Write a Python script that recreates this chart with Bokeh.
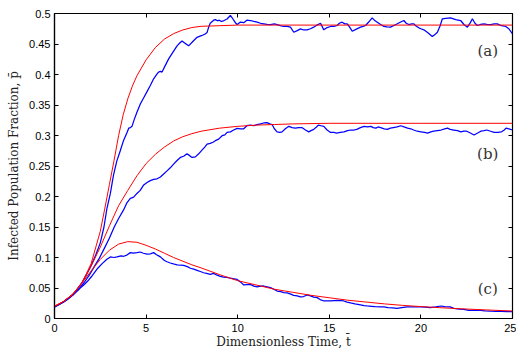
from bokeh.plotting import figure
from bokeh.models import (Range1d, FixedTicker, LinearAxis, Label, CustomJSTickFormatter)
from bokeh.embed import file_html
from bokeh.resources import INLINE

# ---------------- data ----------------
x_ticks = [0, 5, 10, 15, 20, 25]
y_ticks = [0, 0.05, 0.1, 0.15, 0.2, 0.25, 0.3, 0.35, 0.4, 0.45, 0.5]

# deterministic curves (red)
red_a_t = [0, 0.5, 1.0, 1.5, 2.0, 2.5, 2.75, 3.0, 3.25, 3.5, 3.75, 4.0, 4.25, 4.5, 5.0, 5.5,
           6.0, 6.5, 7.0, 7.5, 8.0, 9.0, 10, 12, 15, 20, 25]
red_a_p = [0.020, 0.028, 0.039, 0.058, 0.090, 0.143, 0.181, 0.220, 0.259, 0.300, 0.334, 0.360,
           0.381, 0.398, 0.424, 0.444, 0.458, 0.467, 0.473, 0.477, 0.479, 0.480, 0.481, 0.481,
           0.481, 0.481, 0.481]

red_b_t = [0, 0.5, 1.0, 1.5, 2.0, 2.5, 3.0, 3.5, 4.0, 4.5, 5.0, 5.5, 6.0, 6.5, 7.0, 7.5, 8.0,
           9.0, 10, 11, 12, 13, 15, 20, 25]
red_b_p = [0.020, 0.028, 0.040, 0.059, 0.086, 0.117, 0.152, 0.185, 0.210, 0.234, 0.254, 0.269,
           0.281, 0.291, 0.298, 0.303, 0.307, 0.312, 0.315, 0.317, 0.318, 0.319, 0.320, 0.320,
           0.320]

red_c_t = [0, 0.5, 1.0, 1.5, 2.0, 2.5, 3.0, 3.5, 4.0, 4.5, 5.0, 5.5, 6.0, 6.5, 7.0, 7.5, 8.0,
           9.0, 10, 11, 12, 13, 14, 15, 16, 17, 18, 19, 20, 21, 22, 23, 24, 25]
red_c_p = [0.020, 0.028, 0.040, 0.058, 0.078, 0.097, 0.112, 0.122, 0.126, 0.125, 0.120, 0.114,
           0.107, 0.100, 0.094, 0.088, 0.083, 0.072, 0.062, 0.055, 0.048, 0.043, 0.038, 0.034,
           0.030, 0.027, 0.024, 0.0215, 0.0195, 0.0178, 0.0162, 0.0148, 0.0135, 0.0123]

# stochastic simulations (blue)
blue_a_t = [0, 0.25, 0.5, 0.75, 1.0, 1.25, 1.5, 1.75, 2.0, 2.25, 2.5, 2.7, 2.86, 3.05, 3.22, 3.4,
            3.59, 3.77, 3.96, 4.05, 4.15, 4.23, 4.35, 4.5, 4.69, 4.87, 5.05, 5.23, 5.41, 5.6,
            5.68, 5.78, 5.87, 6.05, 6.23, 6.45, 6.69, 6.85, 6.96, 7.14, 7.32, 7.55, 7.78, 8.05,
            8.2, 8.33, 8.42, 8.5, 8.69, 8.78, 8.9, 9.0, 9.1, 9.23, 9.42, 9.6, 9.7, 9.78, 9.9,
            9.97, 10.15, 10.33, 10.5, 10.69, 10.88, 11.06, 11.25, 11.42, 11.6, 11.79, 12.0,
            12.15, 12.33, 12.51, 12.7, 12.88, 13.06, 13.25, 13.43, 13.6, 13.79, 13.97, 14.15,
            14.33, 14.52, 14.7, 14.88, 15.07, 15.25, 15.43, 15.55, 15.7, 15.85, 15.98, 16.1,
            16.25, 16.45, 16.7, 16.85, 16.98, 17.15, 17.34, 17.5, 17.62, 17.8, 17.98, 18.15,
            18.34, 18.5, 18.71, 18.9, 19.07, 19.2, 19.34, 19.5, 19.62, 19.75, 19.89, 20.0,
            20.16, 20.4, 20.62, 20.75, 20.9, 21.05, 21.17, 21.35, 21.62, 21.9, 22.17, 22.35,
            22.54, 22.7, 22.81, 22.95, 23.08, 23.25, 23.44, 23.6, 23.81, 24.0, 24.17, 24.4,
            24.63, 24.8, 25.0]
blue_a_p = [0.019, 0.023, 0.027, 0.032, 0.039, 0.048, 0.059, 0.072, 0.087, 0.104, 0.124, 0.150,
            0.180, 0.205, 0.235, 0.258, 0.275, 0.292, 0.305, 0.312, 0.313, 0.315, 0.326, 0.338,
            0.352, 0.362, 0.372, 0.382, 0.393, 0.401, 0.404, 0.405, 0.404, 0.415, 0.4256, 0.436,
            0.447, 0.452, 0.455, 0.451, 0.447, 0.454, 0.461, 0.464, 0.466, 0.469, 0.478, 0.484,
            0.489, 0.490, 0.488, 0.489, 0.487, 0.488, 0.491, 0.4967, 0.493, 0.489, 0.484, 0.482,
            0.486, 0.485, 0.489, 0.4885, 0.487, 0.4858, 0.484, 0.4831, 0.482, 0.4819, 0.483,
            0.4819, 0.480, 0.4787, 0.479, 0.4776, 0.4693, 0.472, 0.4748, 0.473, 0.4732, 0.475,
            0.4776, 0.481, 0.4841, 0.4732, 0.477, 0.4787, 0.479, 0.4803, 0.484, 0.4858, 0.483,
            0.4831, 0.478, 0.4710, 0.474, 0.4776, 0.479, 0.4803, 0.486, 0.4929, 0.488, 0.4858,
            0.482, 0.4787, 0.478, 0.4776, 0.480, 0.4831, 0.486, 0.4885, 0.484, 0.4819, 0.483,
            0.4831, 0.479, 0.4765, 0.475, 0.4732, 0.468, 0.4622, 0.465, 0.4693, 0.480, 0.4913,
            0.492, 0.4929, 0.490, 0.4885, 0.482, 0.4776, 0.485, 0.4913, 0.484, 0.4803, 0.482,
            0.4831, 0.482, 0.4819, 0.483, 0.4831, 0.480, 0.4787, 0.475, 0.4666]

blue_b_t = [0, 0.5, 1.0, 1.3, 1.62, 1.9, 2.17, 2.45, 2.72, 3.0, 3.26, 3.5, 3.77, 3.96, 4.14,
            4.32, 4.5, 4.68, 4.87, 5.05, 5.23, 5.41, 5.6, 5.78, 5.96, 6.14, 6.32, 6.5, 6.69,
            6.87, 7.05, 7.23, 7.38, 7.51, 7.69, 7.87, 8.05, 8.2, 8.33, 8.5, 8.65, 8.78, 8.96,
            9.15, 9.3, 9.42, 9.6, 9.78, 9.97, 10.15, 10.33, 10.5, 10.7, 10.88, 11.06, 11.24,
            11.42, 11.6, 11.75, 11.88, 12.0, 12.15, 12.3, 12.42, 12.6, 12.79, 12.97, 13.15,
            13.33, 13.5, 13.7, 13.88, 14.0, 14.15, 14.3, 14.4, 14.55, 14.7, 14.88, 15.07, 15.25,
            15.4, 15.6, 15.8, 16.0, 16.16, 16.35, 16.5, 16.7, 16.9, 17.08, 17.27, 17.4, 17.54,
            17.67, 17.8, 18.0, 18.17, 18.33, 18.5, 18.7, 18.9, 19.08, 19.27, 19.45, 19.6, 19.8,
            20.0, 20.2, 20.36, 20.55, 20.7, 20.9, 21.1, 21.3, 21.45, 21.6, 21.8, 22.0, 22.18,
            22.35, 22.5, 22.7, 22.9, 23.1, 23.27, 23.45, 23.6, 23.8, 24.0, 24.2, 24.4, 24.55,
            24.65, 24.8, 25.0]
blue_b_p = [0.019, 0.027, 0.039, 0.047, 0.059, 0.071, 0.085, 0.099, 0.115, 0.132, 0.150, 0.164,
            0.178, 0.190, 0.197, 0.199, 0.205, 0.210, 0.219, 0.223, 0.226, 0.228, 0.229, 0.232,
            0.237, 0.242, 0.247, 0.253, 0.259, 0.264, 0.266, 0.270, 0.267, 0.264, 0.265, 0.270,
            0.276, 0.281, 0.286, 0.287, 0.289, 0.2915, 0.294, 0.2997, 0.301, 0.305, 0.306,
            0.309, 0.3117, 0.311, 0.311, 0.316, 0.317, 0.316, 0.318, 0.319, 0.3205, 0.321,
            0.319, 0.318, 0.311, 0.306, 0.305, 0.306, 0.311, 0.315, 0.313, 0.312, 0.313, 0.313,
            0.309, 0.306, 0.308, 0.310, 0.314, 0.317, 0.316, 0.315, 0.309, 0.305, 0.305, 0.304,
            0.305, 0.306, 0.308, 0.309, 0.309, 0.310, 0.313, 0.315, 0.314, 0.315, 0.313, 0.312,
            0.314, 0.313, 0.311, 0.310, 0.312, 0.313, 0.314, 0.316, 0.314, 0.312, 0.311, 0.309,
            0.307, 0.306, 0.305, 0.304, 0.306, 0.307, 0.308, 0.309, 0.311, 0.312, 0.310, 0.309,
            0.308, 0.306, 0.307, 0.307, 0.304, 0.3008, 0.304, 0.307, 0.308, 0.309, 0.307, 0.305,
            0.305, 0.306, 0.309, 0.312, 0.311, 0.309]

blue_c_t = [0, 0.25, 0.5, 0.75, 1.0, 1.2, 1.4, 1.6, 1.8, 2.0, 2.13, 2.35, 2.6, 2.86, 3.05, 3.25,
            3.41, 3.63, 3.78, 3.95, 4.14, 4.3, 4.5, 4.68, 4.85, 5.05, 5.23, 5.41, 5.55, 5.78,
            6.0, 6.14, 6.32, 6.54, 6.69, 6.87, 7.05, 7.25, 7.42, 7.6, 7.78, 7.96, 8.14, 8.3,
            8.5, 8.69, 8.87, 9.05, 9.23, 9.42, 9.6, 9.8, 9.97, 10.15, 10.33, 10.5, 10.69, 10.88,
            11.06, 11.24, 11.42, 11.6, 11.79, 11.97, 12.15, 12.35, 12.51, 12.7, 12.9, 13.05,
            13.25, 13.43, 13.6, 13.79, 13.97, 14.15, 14.34, 14.5, 14.7, 14.88, 15.07, 15.25,
            15.43, 15.6, 15.79, 15.97, 16.16, 16.4, 16.7, 16.9, 17.07, 17.3, 17.5, 17.8, 17.98,
            18.2, 18.45, 18.7, 18.95, 19.26, 19.5, 19.75, 20.0, 20.25, 20.5, 20.8, 21.1, 21.3,
            21.6, 21.8, 22.1, 22.35, 22.6, 22.9, 23.26, 23.5, 23.8, 24.1, 24.4, 24.7, 25.0]
blue_c_p = [0.019, 0.023, 0.028, 0.033, 0.038, 0.044, 0.050, 0.055, 0.061, 0.068, 0.073, 0.082,
            0.090, 0.097, 0.101, 0.100, 0.101, 0.1026, 0.102, 0.104, 0.108, 0.107, 0.108, 0.109,
            0.107, 0.1054, 0.106, 0.108, 0.105, 0.101, 0.095, 0.093, 0.091, 0.089, 0.088,
            0.0873, 0.087, 0.085, 0.0824, 0.081, 0.079, 0.077, 0.075, 0.074, 0.0725, 0.074,
            0.071, 0.069, 0.068, 0.0675, 0.066, 0.065, 0.064, 0.060, 0.055, 0.0555, 0.056,
            0.053, 0.0517, 0.053, 0.0533, 0.052, 0.0506, 0.048, 0.045, 0.044, 0.0424, 0.042,
            0.040, 0.038, 0.037, 0.0353, 0.036, 0.0386, 0.037, 0.035, 0.0342, 0.031, 0.0287,
            0.0287, 0.029, 0.0295, 0.0298, 0.0295, 0.0287, 0.027, 0.0255, 0.024, 0.0222, 0.021,
            0.0205, 0.020, 0.0195, 0.0189, 0.019, 0.018, 0.0175, 0.0167, 0.018, 0.0189, 0.019,
            0.0192, 0.019, 0.0185, 0.0177, 0.019, 0.0205, 0.0195, 0.019, 0.0167, 0.0155, 0.015,
            0.0135, 0.0135, 0.0134, 0.0125, 0.012, 0.0118, 0.0115, 0.0113, 0.0112]

curve_labels = ["(a)", "(b)", "(c)"]

# ---------------- figure ----------------
SERIF = "DejaVu Serif"
SANS = "Liberation Sans"

p = figure(width=516, height=351, output_backend="svg", toolbar_location=None,
           x_range=Range1d(0, 25), y_range=Range1d(0, 0.5),
           min_border_left=54, min_border_right=4, min_border_top=13, min_border_bottom=33)
p.background_fill_color = "white"
p.border_fill_color = "white"
p.xgrid.visible = False
p.ygrid.visible = False
p.outline_line_color = "black"
p.outline_line_width = 1.2

def style_axis(ax):
    ax.major_tick_in = 4
    ax.major_tick_out = 0
    ax.minor_tick_line_color = None
    ax.major_tick_line_color = "black"
    ax.axis_line_color = "black"
    ax.axis_line_width = 1.2
    ax.major_label_text_font = SANS
    ax.major_label_text_font_size = "11px"
    ax.major_label_text_color = "black"
    ax.axis_label_text_font = SERIF
    ax.axis_label_text_font_size = "12px"
    ax.axis_label_text_font_style = "normal"
    ax.axis_label_text_color = "#222222"

xa = p.xaxis[0]
ya = p.yaxis[0]
xa.ticker = FixedTicker(ticks=x_ticks)
ya.ticker = FixedTicker(ticks=y_ticks)
ya.formatter = CustomJSTickFormatter(code="return String(Math.round(tick*100)/100);")
style_axis(xa)
style_axis(ya)
xa.major_label_standoff = 5
ya.major_label_standoff = 4
xa.axis_label = "Dimensionless Time, t\u0304"
ya.axis_label = "Infected Population Fraction, p\u0304"
xa.axis_label_standoff = 0
ya.axis_label_standoff = 5

# tick-only axes on top and right (no labels)
blank = "return '';"
top = LinearAxis(ticker=FixedTicker(ticks=x_ticks), formatter=CustomJSTickFormatter(code=blank))
style_axis(top)
top.major_label_standoff = 0
top.axis_line_color = None
p.add_layout(top, "above")
right = LinearAxis(ticker=FixedTicker(ticks=y_ticks), formatter=CustomJSTickFormatter(code=blank))
style_axis(right)
right.major_label_standoff = 0
right.axis_line_color = None
p.add_layout(right, "right")

# blue stochastic runs
for t, y in [(blue_a_t, blue_a_p), (blue_b_t, blue_b_p), (blue_c_t, blue_c_p)]:
    p.line(t, y, line_color="#0000ff", line_width=1.25)
# red deterministic curves
for t, y in [(red_a_t, red_a_p), (red_b_t, red_b_p), (red_c_t, red_c_p)]:
    p.line(t, y, line_color="#ff0000", line_width=1.0)

for txt, yy in zip(curve_labels, [0.439, 0.27, 0.048]):
    p.add_layout(Label(x=23.65, y=yy, text=txt, text_align="center", text_baseline="middle",
                       text_font=SERIF, text_font_size="15px", text_color="#333333"))

open("out.html", "w").write(file_html(p, INLINE))
